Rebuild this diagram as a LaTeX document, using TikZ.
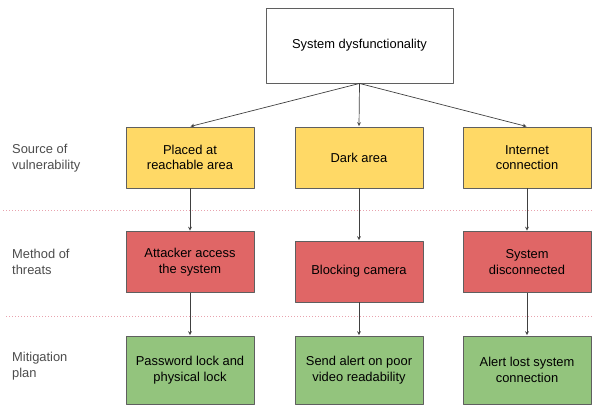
\documentclass[tikz,border=0pt]{standalone}
\usepackage{fontspec}
\setmainfont{Liberation Sans}
\definecolor{boxline}{HTML}{5F5F5F}
\definecolor{vulfill}{HTML}{FFD966}
\definecolor{thrfill}{HTML}{E06666}
\definecolor{mitfill}{HTML}{93C47D}
\definecolor{sepline}{HTML}{E8A3AE}
\begin{document}
\begin{tikzpicture}[x=1pt, y=-1pt, font=\fontsize{12.9}{15.5}\selectfont, line join=round, >=stealth,
	box/.style={draw=boxline, line width=0.9pt, align=center, inner sep=0pt, minimum width=128pt, minimum height=61pt},
	vul/.style={box, fill=vulfill},
	thr/.style={box, fill=thrfill},
	mit/.style={box, fill=mitfill, minimum height=68pt},
	lbl/.style={align=left, anchor=west, inner sep=0pt, text=black!70},
	link/.style={->, draw=black!75, line width=0.7pt, shorten >=0.5pt}]
	\useasboundingbox (0,0) rectangle (592,409);
	% rows
	\draw[sepline, dotted, line width=1pt] (3,210) -- (592,210);
	\draw[sepline, dotted, line width=1pt] (6,316) -- (592,316);
	\node[box, fill=white, minimum width=187pt, minimum height=75pt] (sys) at (359.5,45.5) {System dysfunctionality};
	\node[lbl] (lsrc) at (12,158) {Source of\\vulnerability};
	\node[lbl] (lmeth) at (12,262) {Method of\\threats};
	\node[lbl] (lmit) at (12,366) {Mitigation\\plan};
	\node[vul] (placed) at (190,157.5) {Placed at\\reachable area};
	\node[vul] (dark) at (359,157.5) {Dark area};
	\node[vul] (inet) at (527,157.5) {Internet\\connection};
	\node[thr] (attack) at (190,262) {Attacker access\\the system};
	\node[thr] (block) at (359,271.5) {Blocking camera};
	\node[thr] (discon) at (527,262) {System\\disconnected};
	\node[mit] (lock) at (190,370) {Password lock and\\physical lock};
	\node[mit] (alert) at (359,370) {Send alert on poor\\video readability};
	\node[mit] (lost) at (527,370) {Alert lost system\\connection};
	% arrows
	\draw[link] (sys.south) -- (placed.north);
	\draw[link] (sys.south) -- (dark.north);
	\draw[link] (sys.south) -- (inet.north);
	\draw[link] (placed) -- (attack);
	\draw[link] (dark) -- (block);
	\draw[link] (inet) -- (discon);
	\draw[link] (attack) -- (lock);
	\draw[link] (block) -- (alert);
	\draw[link] (discon) -- (lost);
\end{tikzpicture}
\end{document}
